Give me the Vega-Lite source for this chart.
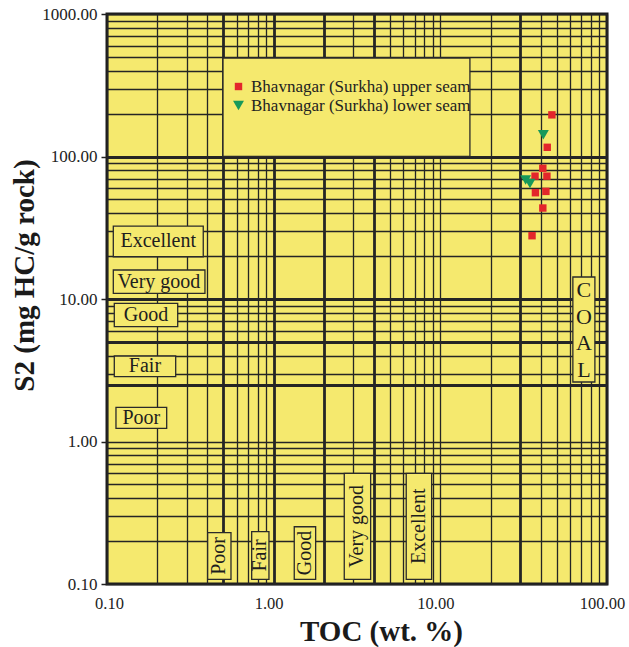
{
  "$schema": "https://vega.github.io/schema/vega-lite/v6.json",
  "width": 500,
  "height": 570,
  "autosize": {"type": "none"},
  "padding": {"left": 107, "top": 14, "right": 22, "bottom": 63},
  "background": "white",
  "config": {
    "font": "Liberation Serif",
    "view": {"fill": "#f5e96e", "stroke": "#1e1e1e", "strokeWidth": 3},
    "legend": {
      "orient": "none", "legendX": 123, "legendY": 64,
      "labelFont": "Liberation Serif", "labelFontSize": 17, "labelColor": "#222", "labelLimit": 400,
      "rowPadding": 1, "labelOffset": 4, "padding": 0,
      "symbolStrokeWidth": 0, "symbolOpacity": 1
    }
  },
  "datasets": {
    "points": [
      {"toc": 46.7, "s2": 196, "seam": "Bhavnagar (Surkha) upper seam"},
      {"toc": 43.8, "s2": 116, "seam": "Bhavnagar (Surkha) upper seam"},
      {"toc": 41.2, "s2": 82.7, "seam": "Bhavnagar (Surkha) upper seam"},
      {"toc": 37.0, "s2": 72.8, "seam": "Bhavnagar (Surkha) upper seam"},
      {"toc": 43.6, "s2": 72.8, "seam": "Bhavnagar (Surkha) upper seam"},
      {"toc": 37.2, "s2": 55.7, "seam": "Bhavnagar (Surkha) upper seam"},
      {"toc": 43.0, "s2": 56.9, "seam": "Bhavnagar (Surkha) upper seam"},
      {"toc": 41.2, "s2": 43.5, "seam": "Bhavnagar (Surkha) upper seam"},
      {"toc": 35.5, "s2": 27.8, "seam": "Bhavnagar (Surkha) upper seam"},
      {"toc": 41.5, "s2": 142, "seam": "Bhavnagar (Surkha) lower seam"},
      {"toc": 32.5, "s2": 68.4, "seam": "Bhavnagar (Surkha) lower seam"},
      {"toc": 34.5, "s2": 64.6, "seam": "Bhavnagar (Surkha) lower seam"}
    ],
    "boxes": [
      {"name": "legend", "toc": 0.4966, "toc_end": 15.05, "s2": 100, "s2_end": 491},
      {"name": "Excellent", "toc": 0.1091, "toc_end": 0.378, "s2": 19.8, "s2_end": 32.5},
      {"name": "Very good", "toc": 0.1091, "toc_end": 0.387, "s2": 10.96, "s2_end": 15.98},
      {"name": "Good", "toc": 0.1106, "toc_end": 0.2656, "s2": 6.39, "s2_end": 9.33},
      {"name": "Fair", "toc": 0.1106, "toc_end": 0.2583, "s2": 2.85, "s2_end": 3.98},
      {"name": "Poor", "toc": 0.1132, "toc_end": 0.2281, "s2": 1.238, "s2_end": 1.738},
      {"name": "TOC Poor", "toc": 0.4018, "toc_end": 0.5545, "s2": 0.1078, "s2_end": 0.229},
      {"name": "TOC Fair", "toc": 0.738, "toc_end": 0.937, "s2": 0.1078, "s2_end": 0.2328},
      {"name": "TOC Good", "toc": 1.329, "toc_end": 1.786, "s2": 0.1078, "s2_end": 0.2523},
      {"name": "TOC Very good", "toc": 2.652, "toc_end": 3.818, "s2": 0.1078, "s2_end": 0.598},
      {"name": "TOC Excellent", "toc": 6.243, "toc_end": 8.867, "s2": 0.1078, "s2_end": 0.598},
      {"name": "COAL", "toc": 62.4, "toc_end": 84.6, "s2": 2.615, "s2_end": 14.27}
    ],
    "hlabels": [
      {"label": "Excellent", "toc": 0.2031, "s2": 25.4},
      {"label": "Very good", "toc": 0.205, "s2": 13.2},
      {"label": "Good", "toc": 0.1714, "s2": 7.72},
      {"label": "Fair", "toc": 0.169, "s2": 3.37},
      {"label": "Poor", "toc": 0.1606, "s2": 1.466}
    ],
    "vlabels": [
      {"label": "Poor", "toc": 0.4717, "s2": 0.1573},
      {"label": "Fair", "toc": 0.831, "s2": 0.1586},
      {"label": "Good", "toc": 1.541, "s2": 0.1651},
      {"label": "Very good", "toc": 3.182, "s2": 0.254},
      {"label": "Excellent", "toc": 7.44, "s2": 0.254}
    ],
    "coal": [
      {"letter": "C", "toc": 72.7, "s2": 11.57},
      {"letter": "O", "toc": 72.7, "s2": 7.48},
      {"letter": "A", "toc": 72.7, "s2": 4.91},
      {"letter": "L", "toc": 72.7, "s2": 3.18}
    ]
  },
  "layer": [
    {
      "data": {"name": "boxes"},
      "mark": {"type": "rect", "fill": "#f5e96e", "stroke": "#2a2a2a", "strokeWidth": 1.3},
      "encoding": {
        "x": {
          "field": "toc", "type": "quantitative",
          "scale": {"type": "log", "domain": [0.1, 100], "nice": false, "zero": false},
          "axis": {
            "title": "TOC (wt. %)",
            "titleFont": "Liberation Serif", "titleFontSize": 29, "titleFontWeight": "bold", "titleColor": "#1a1a1a",
            "titleX": 274, "titleY": 56, "titleBaseline": "alphabetic", "titleAlign": "center",
            "values": [0.1, 0.2, 0.3, 0.4, 0.5, 0.6, 0.7, 0.8, 0.9, 1, 2, 3, 4, 5, 6, 7, 8, 9, 10, 20, 30, 40, 50, 60, 70, 80, 90, 100],
            "grid": true, "gridColor": "#252525", "gridOpacity": 1,
            "gridWidth": {"condition": {"test": "indexof([0.5, 1, 2, 4, 30], datum.value) >= 0", "value": 2.8}, "value": 1.3},
            "ticks": false, "domain": false,
            "labelExpr": "indexof([0.1, 1, 10, 100], datum.value) >= 0 ? format(datum.value, '.2f') : ''",
            "labelFont": "Liberation Serif", "labelFontSize": 16.5, "labelColor": "#222",
            "labelOffset": {"condition": {"test": "datum.value == 0.1", "value": 2}, "value": -5},
            "labelPadding": 11, "labelFlush": false, "labelOverlap": false
          }
        },
        "x2": {"field": "toc_end"},
        "y": {
          "field": "s2", "type": "quantitative",
          "scale": {"type": "log", "domain": [0.1, 1000], "nice": false, "zero": false},
          "axis": {
            "title": "S2 (mg HC/g rock)",
            "titleFont": "Liberation Serif", "titleFontSize": 29, "titleFontWeight": "bold", "titleColor": "#1a1a1a",
            "titleAngle": 270, "titleX": -74, "titleY": 261, "titleAlign": "center", "titleBaseline": "alphabetic",
            "values": [0.1, 0.2, 0.3, 0.4, 0.5, 0.6, 0.7, 0.8, 0.9, 1, 2.5, 3, 4, 5, 6, 7, 8, 9, 10, 20, 30, 40, 50, 60, 70, 80, 90, 100, 200, 300, 400, 500, 600, 700, 800, 900, 1000],
            "grid": true, "gridColor": "#252525", "gridOpacity": 1,
            "gridWidth": {"condition": {"test": "indexof([2.5, 5, 10, 100], datum.value) >= 0", "value": 2.8}, "value": 1.3},
            "ticks": true, "tickSize": 6, "tickWidth": 1.5, "tickColor": "#222",
            "tickOpacity": {"condition": {"test": "indexof([0.1, 1, 10, 100, 1000], datum.value) >= 0", "value": 1}, "value": 0},
            "domain": false,
            "labelExpr": "indexof([0.1, 1, 10, 100, 1000], datum.value) >= 0 ? format(datum.value, '.2f') : ''",
            "labelFont": "Liberation Serif", "labelFontSize": 17, "labelColor": "#222",
            "labelPadding": 4, "labelOverlap": false
          }
        },
        "y2": {"field": "s2_end"}
      }
    },
    {
      "data": {"name": "hlabels"},
      "mark": {"type": "text", "font": "Liberation Serif", "fontSize": 20, "color": "#1e1e1e", "align": "center", "baseline": "middle"},
      "encoding": {
        "x": {"field": "toc", "type": "quantitative"},
        "y": {"field": "s2", "type": "quantitative"},
        "text": {"field": "label"}
      }
    },
    {
      "data": {"name": "vlabels"},
      "mark": {"type": "text", "font": "Liberation Serif", "fontSize": 20, "color": "#1e1e1e", "align": "center", "baseline": "middle", "angle": 270},
      "encoding": {
        "x": {"field": "toc", "type": "quantitative"},
        "y": {"field": "s2", "type": "quantitative"},
        "text": {"field": "label"}
      }
    },
    {
      "data": {"name": "coal"},
      "mark": {"type": "text", "font": "Liberation Serif", "fontSize": 22, "color": "#1e1e1e", "align": "center", "baseline": "middle"},
      "encoding": {
        "x": {"field": "toc", "type": "quantitative"},
        "y": {"field": "s2", "type": "quantitative"},
        "text": {"field": "letter"}
      }
    },
    {
      "data": {"name": "points"},
      "mark": {"type": "point", "filled": true, "opacity": 1},
      "encoding": {
        "x": {"field": "toc", "type": "quantitative"},
        "y": {"field": "s2", "type": "quantitative"},
        "color": {
          "field": "seam", "type": "nominal", "title": null,
          "scale": {"domain": ["Bhavnagar (Surkha) upper seam", "Bhavnagar (Surkha) lower seam"], "range": ["#e3262b", "#17995a"]}
        },
        "shape": {
          "field": "seam", "type": "nominal", "title": null,
          "scale": {"domain": ["Bhavnagar (Surkha) upper seam", "Bhavnagar (Surkha) lower seam"], "range": ["square", "triangle-down"]}
        },
        "size": {
          "field": "seam", "type": "nominal", "title": null,
          "scale": {"domain": ["Bhavnagar (Surkha) upper seam", "Bhavnagar (Surkha) lower seam"], "range": [55, 120]}
        }
      }
    }
  ]
}
